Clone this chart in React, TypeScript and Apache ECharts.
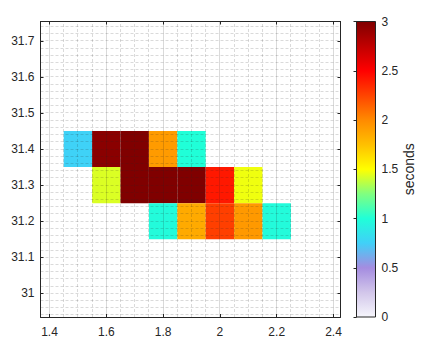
import React, { useEffect, useRef } from "react";
import * as echarts from "echarts";

// ---- data ----
const cellX = [1.5, 1.6, 1.7, 1.8, 1.9, 1.6, 1.7, 1.8, 1.9, 2.0, 2.1, 1.8, 1.9, 2.0, 2.1, 2.2];
const cellY = [31.4, 31.4, 31.4, 31.4, 31.4, 31.3, 31.3, 31.3, 31.3, 31.3, 31.3, 31.2, 31.2, 31.2, 31.2, 31.2];
const cellSeconds = [0.76, 2.96, 3.0, 1.92, 1.0, 1.43, 3.0, 3.0, 3.0, 2.41, 1.47, 0.98, 1.85, 2.27, 1.93, 0.98];

const xTickLabels = [1.4, 1.6, 1.8, 2, 2.2, 2.4];
const yTickLabels = [31, 31.1, 31.2, 31.3, 31.4, 31.5, 31.6, 31.7];
const colorbarTicks = [0, 0.5, 1, 1.5, 2, 2.5, 3];

const palette = [
  "#f6f6fc", "#d2c6ea", "#a48ce0", "#40d0f8", "#20ffd8", "#80ff80", "#ffff00",
  "#ffc000", "#ff8a00", "#ff4400", "#ff0000", "#c00000", "#800000",
];

const X_MIN = 1.3683;
const X_MAX = 2.4246;
const Y_MIN = 30.9343;
const Y_MAX = 31.7537;
const CELL = 0.1;
const C_MIN = 0;
const C_MAX = 3;

const AX = "#262626";
const FONT = "'Liberation Sans', Arial, Helvetica, sans-serif";

export default function App() {
  const ref = useRef<HTMLDivElement>(null);
  useEffect(() => {
    document.body.style.margin = "0";
    if (!ref.current) return;
    const chart = echarts.init(ref.current, null, { renderer: "svg" });

    const cells = cellX.map((x, i) => [x, cellY[i], cellSeconds[i]]);

    const vLines: number[][] = [];
    for (let i = 0; i <= 20; i++) {
      const x = +(1.4 + i * 0.05).toFixed(2);
      vLines.push([x, Y_MIN, i % 4 === 0 ? 1 : 0]);
    }
    const hLines: number[][] = [];
    for (let i = 0; i <= 40; i++) {
      const y = +(30.94 + i * 0.02).toFixed(2);
      hLines.push([X_MIN, y, 0]);
    }

    const tickCommon = { show: true, inside: true, length: 3, lineStyle: { color: AX, width: 1 } };
    const lineCommon = { show: true, lineStyle: { color: AX, width: 1 } };
    const labelCommon = { color: AX, fontSize: 12, fontFamily: FONT };

    const option: any = {
      animation: false,
      grid: [
        { left: 40.5, top: 21.5, width: 300, height: 295.5 },
        { left: 356.5, top: 21.5, width: 19, height: 295.5 },
      ],
      xAxis: [
        {
          type: "value", gridIndex: 0, min: X_MIN, max: X_MAX, position: "bottom", z: 5,
          axisLine: lineCommon,
          axisTick: { ...tickCommon, customValues: xTickLabels },
          axisLabel: { ...labelCommon, margin: 9, customValues: xTickLabels, formatter: (v: number) => String(+v.toFixed(1)) },
          splitLine: { show: false },
        },
        {
          type: "value", gridIndex: 0, min: X_MIN, max: X_MAX, position: "top", z: 5,
          axisLine: lineCommon,
          axisTick: { ...tickCommon, customValues: xTickLabels },
          axisLabel: { show: false, customValues: xTickLabels },
          splitLine: { show: false },
        },
        { type: "value", gridIndex: 1, min: 0, max: 1, show: false },
      ],
      yAxis: [
        {
          type: "value", gridIndex: 0, min: Y_MIN, max: Y_MAX, position: "left", z: 5,
          axisLine: lineCommon,
          axisTick: { ...tickCommon, customValues: yTickLabels },
          axisLabel: { ...labelCommon, margin: 6, customValues: yTickLabels, formatter: (v: number) => String(+v.toFixed(1)) },
          splitLine: { show: false },
        },
        {
          type: "value", gridIndex: 0, min: Y_MIN, max: Y_MAX, position: "right", z: 5,
          axisLine: lineCommon,
          axisTick: { ...tickCommon, customValues: yTickLabels },
          axisLabel: { show: false, customValues: yTickLabels },
          splitLine: { show: false },
        },
        {
          type: "value", gridIndex: 1, min: C_MIN, max: C_MAX, interval: 0.5, position: "right", z: 5,
          axisLine: lineCommon,
          axisTick: { ...tickCommon, customValues: colorbarTicks },
          axisLabel: { ...labelCommon, margin: 6, customValues: colorbarTicks, formatter: (v: number) => String(v) },
          splitLine: { show: false },
          name: "seconds",
          nameLocation: "middle",
          nameRotate: 90,
          nameGap: 26,
          nameTextStyle: { color: AX, fontSize: 14, fontFamily: FONT },
        },
      ],
      visualMap: {
        type: "continuous", show: false, min: C_MIN, max: C_MAX, dimension: 2, seriesIndex: 0,
        inRange: { color: palette },
      },
      series: [
        {
          type: "custom",
          xAxisIndex: 0, yAxisIndex: 0,
          data: cells,
          encode: { x: 0, y: 1 },
          z: 2,
          renderItem: (params: any, api: any) => {
            const x = api.value(0), y = api.value(1);
            const p1 = api.coord([x - CELL / 2, y + CELL / 2]);
            const p2 = api.coord([x + CELL / 2, y - CELL / 2]);
            return {
              type: "rect",
              shape: { x: p1[0], y: p1[1], width: p2[0] - p1[0], height: p2[1] - p1[1] },
              style: { fill: api.visual("color"), stroke: null },
            };
          },
        },
        {
          type: "custom",
          xAxisIndex: 0, yAxisIndex: 0,
          data: vLines,
          encode: { x: 0, y: 1 },
          z: 3,
          silent: true,
          renderItem: (params: any, api: any) => {
            const x = api.value(0);
            const major = api.value(2) === 1;
            const p1 = api.coord([x, Y_MIN]);
            const p2 = api.coord([x, Y_MAX]);
            const px = Math.round(p1[0] - 0.5) + 0.5;
            return {
              type: "line",
              shape: { x1: px, y1: p1[1], x2: px, y2: p2[1] },
              style: major
                ? { stroke: "rgba(38,38,38,0.17)", lineWidth: 1 }
                : { stroke: "rgba(38,38,38,0.17)", lineWidth: 1, lineDash: [3, 2] },
            };
          },
        },
        {
          type: "custom",
          xAxisIndex: 0, yAxisIndex: 0,
          data: hLines,
          encode: { x: 0, y: 1 },
          z: 3,
          silent: true,
          renderItem: (params: any, api: any) => {
            const y = api.value(1);
            const p1 = api.coord([X_MIN, y]);
            const p2 = api.coord([X_MAX, y]);
            const py = Math.round(p1[1] - 0.5) + 0.5;
            return {
              type: "line",
              shape: { x1: p1[0], y1: py, x2: p2[0], y2: py },
              style: { stroke: "rgba(38,38,38,0.17)", lineWidth: 1, lineDash: [3, 2] },
            };
          },
        },
        {
          type: "custom",
          xAxisIndex: 2, yAxisIndex: 2,
          data: [[0, C_MIN]],
          encode: { x: 0, y: 1 },
          z: 2,
          silent: true,
          renderItem: (params: any, api: any) => {
            const p1 = api.coord([0, C_MAX]);
            const p2 = api.coord([1, C_MIN]);
            return {
              type: "rect",
              shape: { x: p1[0], y: p1[1], width: p2[0] - p1[0], height: p2[1] - p1[1] },
              style: {
                fill: {
                  type: "linear", x: 0, y: 1, x2: 0, y2: 0,
                  colorStops: palette.map((c, i) => ({ offset: i / (palette.length - 1), color: c })),
                },
                stroke: AX,
                lineWidth: 1,
              },
            };
          },
        },
      ],
    };
    chart.setOption(option);
    return () => chart.dispose();
  }, []);
  return <div ref={ref} style={{ width: 421, height: 351 }} />;
}
